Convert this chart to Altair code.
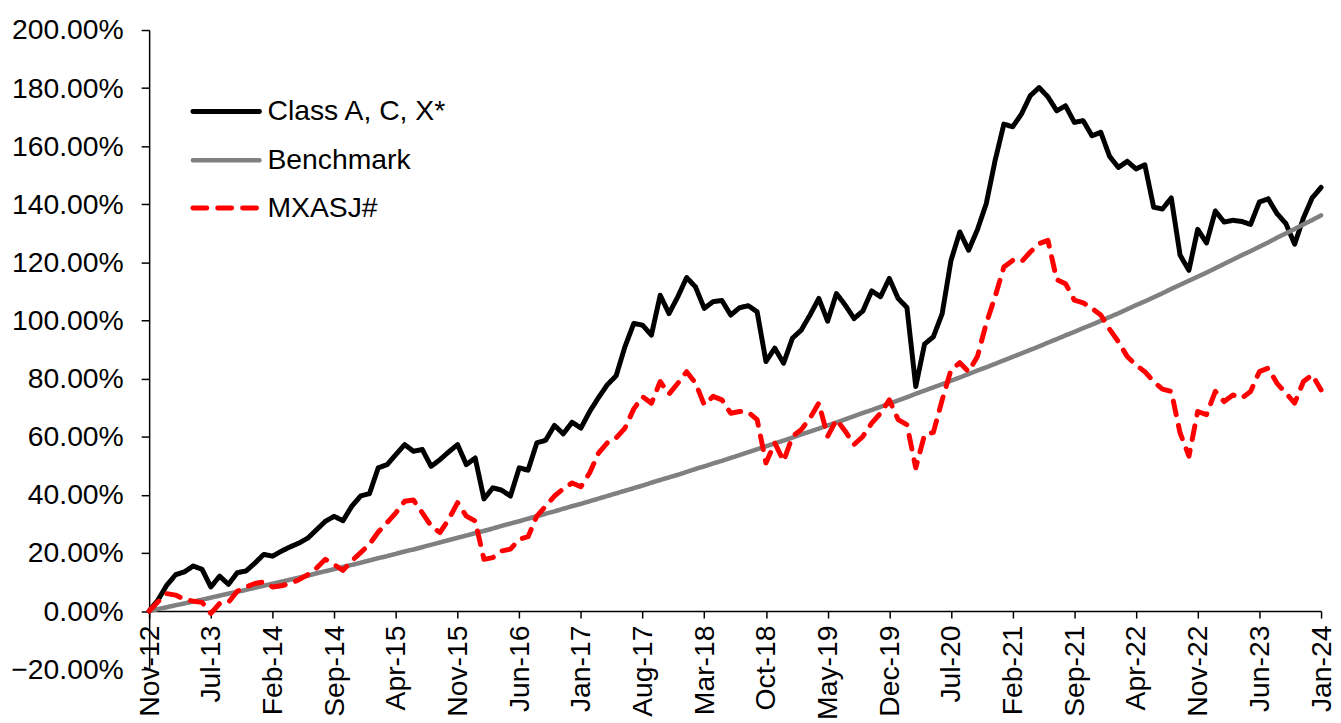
import altair as alt
import pandas as pd

# ---------------- data ----------------
TICK_LABELS = ["Nov-12", "Jul-13", "Feb-14", "Sep-14", "Apr-15", "Nov-15", "Jun-16",
               "Jan-17", "Aug-17", "Mar-18", "Oct-18", "May-19", "Dec-19", "Jul-20",
               "Feb-21", "Sep-21", "Apr-22", "Nov-22", "Jun-23", "Jan-24"]
TICK_STEP = 7
Y_TICKS = [-20, 0, 20, 40, 60, 80, 100, 120, 140, 160, 180, 200]

SERIES = ["Class A, C, X*", "Benchmark", "MXASJ#"]

class_acx = [
    0, 3.8, 8.9, 12.5, 13.5, 15.5, 14.4, 8.3, 12.0, 9.2,
    13.2, 13.8, 16.5, 19.5, 18.9, 20.6, 22.1, 23.4, 25.1, 28.0,
    30.9, 32.6, 31.1, 36.1, 39.6, 40.4, 49.3, 50.4, 53.9, 57.3,
    55.0, 55.6, 49.8, 52.1, 54.8, 57.3, 50.4, 52.7, 38.6, 42.4,
    41.6, 39.6, 49.3, 48.5, 57.9, 58.8, 63.9, 61.0, 65.0, 63.0,
    68.7, 73.5, 77.9, 81.0, 91.0, 99.0, 98.4, 95.0, 108.7, 102.4,
    108.2, 114.8, 111.6, 104.2, 106.5, 106.9, 101.9, 104.4, 105.1, 103.0,
    85.9, 90.5, 85.3, 93.9, 96.7, 101.9, 107.6, 99.8, 109.3, 105.3,
    100.7, 103.3, 110.2, 108.2, 114.5, 107.6, 104.5, 77.3, 91.9, 94.4,
    102.4, 120.7, 130.5, 124.2, 131.3, 140.2, 155.0, 167.6, 166.7, 171.1,
    177.4, 180.2, 177.0, 172.2, 173.9, 168.2, 168.8, 163.6, 164.8, 156.5,
    152.7, 154.8, 152.2, 153.6, 139.0, 138.4, 142.2, 122.5, 117.3, 131.4,
    126.7, 137.7, 133.9, 134.5, 134.1, 133.1, 140.8, 141.9, 136.8, 133.4,
    126.3, 135.3, 142.3, 145.8,
]

benchmark = [
    0, 0.7, 1.3, 2.0, 2.6, 3.3, 3.9, 4.6, 5.3, 6.0,
    6.6, 7.3, 8.0, 8.7, 9.4, 10.1, 10.8, 11.5, 12.2, 13.0,
    13.7, 14.4, 15.2, 15.9, 16.6, 17.4, 18.2, 18.9, 19.7, 20.5,
    21.2, 22.0, 22.8, 23.6, 24.4, 25.2, 26.0, 26.8, 27.6, 28.4,
    29.3, 30.1, 30.9, 31.8, 32.6, 33.5, 34.3, 35.2, 36.1, 36.9,
    37.8, 38.7, 39.6, 40.5, 41.4, 42.3, 43.2, 44.2, 45.1, 46.0,
    46.9, 47.9, 48.9, 49.8, 50.8, 51.7, 52.7, 53.7, 54.7, 55.7,
    56.7, 57.7, 58.7, 59.7, 60.8, 61.8, 62.8, 63.9, 64.9, 66.0,
    67.1, 68.2, 69.2, 70.3, 71.4, 72.5, 73.6, 74.8, 75.9, 77.0,
    78.1, 79.3, 80.4, 81.6, 82.8, 83.9, 85.1, 86.3, 87.5, 88.7,
    89.9, 91.1, 92.4, 93.6, 94.9, 96.1, 97.4, 98.6, 99.9, 101.2,
    102.5, 103.9, 105.3, 106.6, 108.0, 109.4, 110.9, 112.3, 113.7, 115.1,
    116.5, 118.0, 119.5, 121.0, 122.5, 123.9, 125.4, 126.9, 128.5, 130.0,
    131.5, 133.1, 134.6, 136.2,
]

mxasj = [
    0, 3.2, 6.0, 5.5, 4.0, 3.4, 3.0, -0.8, 2.6, 3.0,
    6.8, 8.3, 9.5, 10.0, 8.3, 8.7, 9.5, 10.8, 12.5, 14.8,
    17.8, 16.0, 14.0, 17.3, 20.1, 23.0, 27.2, 30.4, 33.8, 37.8,
    38.2, 33.8, 29.3, 27.0, 31.6, 37.3, 32.7, 31.0, 17.8, 18.4,
    20.7, 21.3, 24.7, 25.6, 32.7, 36.1, 39.6, 42.1, 44.1, 42.8,
    47.6, 54.4, 57.9, 59.6, 63.0, 69.6, 73.8, 71.5, 79.0, 74.7,
    78.4, 82.4, 78.5, 71.0, 73.9, 72.7, 68.1, 68.7, 68.4, 65.9,
    51.0, 57.9, 51.6, 60.1, 62.4, 66.4, 71.6, 60.1, 65.9, 61.9,
    57.3, 60.1, 64.7, 68.1, 72.7, 65.9, 64.1, 49.3, 60.7, 61.5,
    72.7, 83.0, 85.5, 82.4, 87.6, 99.0, 108.2, 118.4, 120.7, 120.2,
    123.6, 126.5, 127.6, 114.1, 112.7, 107.0, 106.1, 104.2, 101.9, 97.0,
    92.7, 87.6, 84.7, 82.4, 79.0, 76.4, 75.6, 61.3, 53.3, 68.7,
    67.6, 75.6, 72.1, 74.4, 73.3, 75.6, 82.4, 83.6, 78.4, 75.0,
    71.6, 79.0, 81.3, 76.1,
]

# ---------------- layout / style ----------------
W, H = 1179, 643
Y_MIN, Y_MAX = -20, 200
FONT = "Liberation Sans"
FS = 28.5
COLORS = {"Class A, C, X*": "#000000", "Benchmark": "#808080", "MXASJ#": "#FF0000"}
WIDTHS = {"Class A, C, X*": 5.0, "Benchmark": 4.5, "MXASJ#": 5.0}
DASHES = {"Class A, C, X*": [1, 0], "Benchmark": [1, 0], "MXASJ#": [14, 11]}

n = len(class_acx)
df = pd.DataFrame({"idx": list(range(n)),
                   SERIES[0]: class_acx, SERIES[1]: benchmark, SERIES[2]: mxasj})
long = df.melt("idx", var_name="series", value_name="ret")

last_idx = TICK_STEP * (len(TICK_LABELS) - 1)
label_js = "[" + ",".join("'" + t + "'" for t in TICK_LABELS) + "]"

x_enc = alt.X(
    "idx:Q",
    scale=alt.Scale(domain=[0, last_idx], nice=False, zero=False),
    axis=alt.Axis(
        values=list(range(0, last_idx + 1, TICK_STEP)),
        labelExpr=label_js + "[round(datum.value / %d)]" % TICK_STEP,
        labelAngle=-90, labelFontSize=FS, labelFont=FONT, labelColor="#000000",
        labelPadding=7, labelOverlap=False, labelFlush=False,
        tickSize=7, tickColor="#000000", tickWidth=1.5,
        domainColor="#000000", domainWidth=1.5,
        offset=-H * (0 - Y_MIN) / (Y_MAX - Y_MIN),
        grid=False, title=None,
    ),
)
y_enc = alt.Y(
    "ret:Q",
    scale=alt.Scale(domain=[Y_MIN, Y_MAX], nice=False, zero=False),
    axis=alt.Axis(
        values=Y_TICKS,
        labelExpr="format(datum.value, '.2f') + '%'",
        labelFontSize=FS, labelFont=FONT, labelColor="#000000",
        labelPadding=18, labelFlush=False, labelOverlap=False,
        tickSize=8, tickColor="#000000", tickWidth=1.5,
        domainColor="#000000", domainWidth=1.5,
        grid=False, title=None,
    ),
)

layers = []
for s in SERIES:
    layers.append(
        alt.Chart(long)
        .transform_filter(alt.datum.series == s)
        .mark_line(color=COLORS[s], strokeWidth=WIDTHS[s], strokeDash=DASHES[s],
                   strokeCap="round", strokeJoin="round")
        .encode(x=x_enc, y=y_enc, order="idx:Q")
    )

# legend (drawn as marks, top-left inside the plot)
leg = pd.DataFrame({"series": SERIES})
LEG_Y = [82, 131, 179]
for s, ly in zip(SERIES, LEG_Y):
    base = alt.Chart(leg).transform_filter(alt.datum.series == s)
    layers.append(
        base.mark_rule(color=COLORS[s], strokeWidth=WIDTHS[s],
                       strokeDash=DASHES[s], strokeCap="round")
        .encode(x=alt.value(44), x2=alt.value(111), y=alt.value(ly))
    )
    layers.append(
        base.mark_text(align="left", baseline="middle", font=FONT, fontSize=FS,
                       color="#000000")
        .encode(x=alt.value(119), y=alt.value(ly), text="series:N")
    )

chart = (
    alt.layer(*layers)
    .properties(
        width=W, height=H,
        padding={"left": 142, "top": 20, "right": 12, "bottom": 52},
        autosize=alt.AutoSizeParams(type="none"),
        background="white",
    )
    .configure_view(stroke=None)
)

chart.save("out.html", embed_options={"renderer": "svg", "actions": False})
